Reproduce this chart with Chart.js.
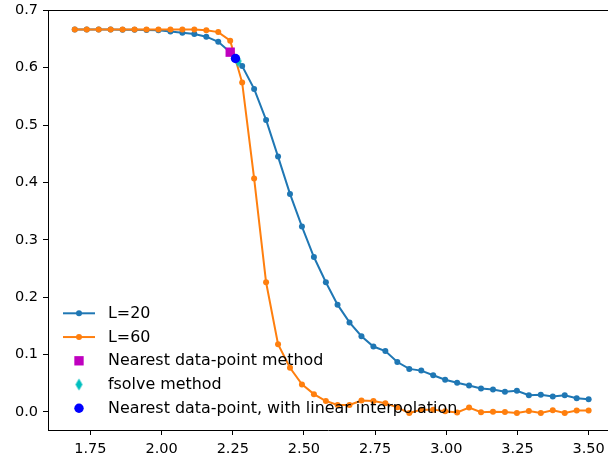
<!DOCTYPE html>
<html lang="en">

<head>
    <meta charset="UTF-8">
    <title>Magnetisation vs temperature</title>
    <script src="https://cdn.jsdelivr.net/npm/chart.js"></script>
    <style>
        body { margin: 0; background: #fff; }
        canvas { display: block; }
    </style>
</head>

<body>
    <canvas id="chart" width="608" height="461"></canvas>

    <script>
        // temperatures (shared by both lattice sizes)
        const temps = [1.695, 1.737, 1.779, 1.821, 1.863, 1.905, 1.947, 1.989, 2.031, 2.073,
            2.115, 2.157, 2.199, 2.241, 2.283, 2.325, 2.367, 2.409, 2.451, 2.493,
            2.535, 2.577, 2.618, 2.660, 2.702, 2.744, 2.786, 2.828, 2.870, 2.912,
            2.954, 2.996, 3.038, 3.080, 3.122, 3.164, 3.206, 3.248, 3.290, 3.332,
            3.374, 3.416, 3.458, 3.500];

        // L=20
        const magL20 = [0.6665, 0.6665, 0.6665, 0.6664, 0.6662, 0.666, 0.6655, 0.665, 0.663, 0.661,
            0.6585, 0.654, 0.645, 0.627, 0.603, 0.563, 0.509, 0.445, 0.380, 0.323,
            0.270, 0.226, 0.187, 0.156, 0.132, 0.114, 0.106, 0.087, 0.075, 0.072,
            0.064, 0.056, 0.051, 0.046, 0.041, 0.039, 0.035, 0.037, 0.029, 0.030,
            0.027, 0.029, 0.024, 0.022];

        // L=60
        const magL60 = [0.6667, 0.6667, 0.6667, 0.6667, 0.6667, 0.6667, 0.6667, 0.6667, 0.6667, 0.6666,
            0.6665, 0.665, 0.662, 0.647, 0.574, 0.407, 0.226, 0.118, 0.077, 0.048,
            0.031, 0.019, 0.012, 0.012, 0.020, 0.019, 0.015, 0.008, -0.002, 0.004,
            0.004, 0.001, -0.001, 0.0075, -0.0005, 0.0005, 0.0, -0.0017, 0.0017, -0.0017,
            0.003, -0.0017, 0.0023, 0.0023];

        // crossing point estimates [T, m]
        const nearestPoint = [2.241, 0.627];
        const fsolvePoint = [2.2686, 0.6114];
        const interpPoint = [2.2595, 0.616];

        const xTicks = [1.75, 2.00, 2.25, 2.50, 2.75, 3.00, 3.25, 3.50];
        const yTicks = [0.0, 0.1, 0.2, 0.3, 0.4, 0.5, 0.6, 0.7];

        const TICK_FONT = { family: 'DejaVu Sans', size: 14.5 };
        const LEGEND_FONT = '15.9px "DejaVu Sans"';

        // thin diamond marker (matplotlib 'd')
        function thinDiamond(color) {
            const c = document.createElement('canvas');
            c.width = 9;
            c.height = 13;
            const g = c.getContext('2d');
            g.fillStyle = color;
            g.beginPath();
            g.moveTo(4.5, 0.5);
            g.lineTo(8, 6.5);
            g.lineTo(4.5, 12.5);
            g.lineTo(1, 6.5);
            g.closePath();
            g.fill();
            return c;
        }

        const pts = (xs, ys) => xs.map((x, i) => ({ x: x, y: ys[i] }));

        // legend drawn inside the axes, lower left, no frame
        const innerLegend = {
            id: 'innerLegend',
            afterDatasetsDraw(chart) {
                const ctx = chart.ctx;
                const area = chart.chartArea;
                const x0 = area.left + 15;
                const x1 = area.left + 47;
                const xm = (x0 + x1) / 2;
                const tx = area.left + 60;
                const step = 23.75;
                const n = chart.data.datasets.length;
                const yLast = area.bottom - 21.7;
                ctx.save();
                chart.data.datasets.forEach((ds, i) => {
                    const y = yLast - (n - 1 - i) * step;
                    if (ds.showLine) {
                        ctx.strokeStyle = ds.borderColor;
                        ctx.lineWidth = ds.borderWidth;
                        ctx.beginPath();
                        ctx.moveTo(x0, y);
                        ctx.lineTo(x1, y);
                        ctx.stroke();
                    }
                    ctx.fillStyle = ds.pointBackgroundColor;
                    const r = ds.pointRadius;
                    if (ds.pointStyle === 'circle') {
                        ctx.beginPath();
                        ctx.arc(xm, y, r, 0, Math.PI * 2);
                        ctx.fill();
                    } else if (ds.pointStyle === 'rect') {
                        const s = Math.SQRT1_2 * r;
                        ctx.fillRect(xm - s, y - s, 2 * s, 2 * s);
                    } else {
                        const img = ds.pointStyle;
                        ctx.drawImage(img, xm - img.width / 2, y - img.height / 2);
                    }
                    ctx.fillStyle = '#000';
                    ctx.font = LEGEND_FONT;
                    ctx.textAlign = 'left';
                    ctx.textBaseline = 'middle';
                    ctx.fillText(ds.label, tx, y + 0.5);
                });
                ctx.restore();
            },
            afterDraw(chart) {
                // top spine
                const ctx = chart.ctx;
                const area = chart.chartArea;
                ctx.save();
                ctx.strokeStyle = '#000';
                ctx.lineWidth = 1;
                ctx.beginPath();
                ctx.moveTo(area.left, Math.round(area.top) + 0.5);
                ctx.lineTo(area.right, Math.round(area.top) + 0.5);
                ctx.stroke();
                ctx.restore();
            }
        };

        const lineSet = (label, ys, color, order) => ({
            label: label,
            data: pts(temps, ys),
            showLine: true,
            borderColor: color,
            borderWidth: 2,
            pointStyle: 'circle',
            pointRadius: 3,
            pointBackgroundColor: color,
            pointBorderWidth: 0,
            tension: 0,
            order: order
        });

        const markerSet = (label, p, color, style, radius, order) => ({
            label: label,
            data: [{ x: p[0], y: p[1] }],
            showLine: false,
            borderColor: color,
            pointStyle: style,
            pointRadius: radius,
            pointBackgroundColor: color,
            pointBorderWidth: 0,
            order: order
        });

        new Chart(document.getElementById('chart'), {
            type: 'line',
            data: {
                datasets: [
                    lineSet('L=20', magL20, '#1f77b4', 5),
                    lineSet('L=60', magL60, '#ff7f0e', 4),
                    markerSet('Nearest data-point method', nearestPoint, '#bf00bf', 'rect', 6.6, 3),
                    markerSet('fsolve method', fsolvePoint, '#00bfbf', thinDiamond('#00bfbf'), 6, 2),
                    markerSet('Nearest data-point, with linear interpolation', interpPoint, '#0000ff', 'circle', 4.7, 1)
                ]
            },
            options: {
                responsive: false,
                animation: false,
                layout: {
                    autoPadding: false,
                    padding: { top: 10, right: 0, left: 0, bottom: 0 }
                },
                plugins: {
                    legend: { display: false },
                    tooltip: { enabled: false }
                },
                scales: {
                    x: {
                        type: 'linear',
                        min: 1.601,
                        max: 3.568,
                        afterBuildTicks: s => { s.ticks = xTicks.map(v => ({ value: v })); },
                        afterFit: s => {
                            s.height = 31;
                            s.paddingLeft = 0;
                            s.paddingRight = 0;
                        },
                        border: { color: '#000', width: 1 },
                        grid: { drawOnChartArea: false, tickLength: 5, tickColor: '#000', tickWidth: 1 },
                        ticks: {
                            color: '#000',
                            font: TICK_FONT,
                            padding: 6,
                            maxRotation: 0,
                            callback: v => v.toFixed(2)
                        }
                    },
                    y: {
                        min: -0.0315,
                        max: 0.7005,
                        afterBuildTicks: s => { s.ticks = yTicks.map(v => ({ value: v })); },
                        afterFit: s => {
                            s.width = 48;
                            s.paddingTop = 0;
                            s.paddingBottom = 0;
                        },
                        border: { color: '#000', width: 1 },
                        grid: { drawOnChartArea: false, tickLength: 5, tickColor: '#000', tickWidth: 1 },
                        ticks: {
                            color: '#000',
                            font: TICK_FONT,
                            padding: 5,
                            callback: v => v.toFixed(1)
                        }
                    }
                }
            },
            plugins: [innerLegend]
        });
    </script>
</body>

</html>
